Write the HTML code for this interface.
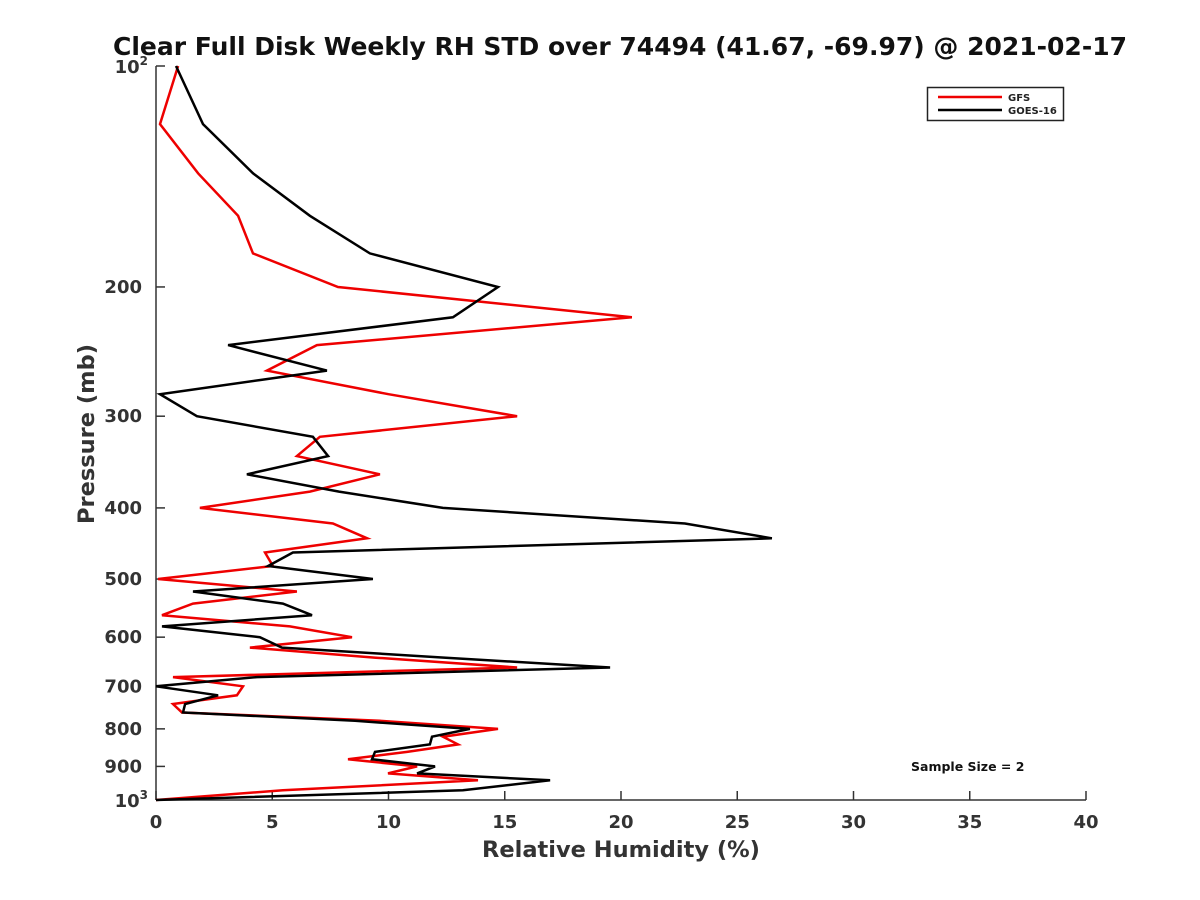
<!DOCTYPE html>
<html><head><meta charset="utf-8"><style>
body{margin:0;background:#fff;}
svg{display:block;font-family:"DejaVu Sans","Liberation Sans",sans-serif;font-weight:bold;}
</style></head><body>
<svg id="chart" width="1200" height="900">
<text x="620" y="55" text-anchor="middle" font-size="25" fill="#111">Clear Full Disk Weekly RH STD over 74494 (41.67, -69.97) @ 2021-02-17</text>
<g id="axes"></g>
<g id="series"></g>
<g>
<rect x="927.5" y="87.5" width="136" height="33" fill="#fff" stroke="#222" stroke-width="1.5"/>
<line x1="938" y1="97" x2="1002" y2="97" stroke="#e00" stroke-width="2.5"/>
<text x="1008" y="101" font-size="10" fill="#222">GFS</text>
<line x1="938" y1="110" x2="1002" y2="110" stroke="#000" stroke-width="2.5"/>
<text x="1008" y="114" font-size="10" fill="#222">GOES-16</text>
</g>
<text x="911" y="771" font-size="12.5" fill="#111">Sample Size = 2</text>
<text x="621" y="857" text-anchor="middle" font-size="22.5" fill="#333">Relative Humidity (%)</text>
<text transform="translate(94,434) rotate(-90)" text-anchor="middle" font-size="22.5" fill="#333">Pressure (mb)</text>
</svg>
<script>
const pressures=[100,120,140,160,180,200,220,240,260,280,300,320,340,360,380,400,420,440,460,480,500,520,540,560,580,600,620,640,660,680,700,720,740,760,780,800,820,840,860,880,900,920,940,970,1000];
const goesValues=[0.86,2.02,4.17,6.62,9.2,14.71,12.77,3.1,7.35,0.17,1.76,6.75,7.4,3.91,7.87,12.34,22.75,26.49,5.89,4.82,9.33,1.59,5.46,6.71,0.26,4.47,5.42,12.47,19.53,4.34,0,2.67,1.25,1.16,8.56,13.5,11.87,11.78,9.42,9.29,12.0,11.23,16.95,13.2,0];
const gfsValues=[0.95,0.17,1.81,3.53,4.17,7.83,20.47,6.92,4.77,10.0,15.53,7.05,6.06,9.63,6.62,1.89,7.61,9.08,4.69,5.03,0.09,6.06,1.59,0.26,5.76,8.43,4.04,9.46,15.53,0.73,3.74,3.48,0.73,1.12,9.63,14.71,12.34,12.99,10.8,8.26,11.23,9.98,13.85,5.46,0];
const xTicks=[0,5,10,15,20,25,30,35,40];
const yTicks=[200,300,400,500,600,700,800,900];
const X0=156,X1=1086,Y0=66,Y1=800;
const xs=v=>X0+(v-0)/(40-0)*(X1-X0);
const ys=p=>Y0+(Math.log10(p)-2)*(Y1-Y0);
const NS='http://www.w3.org/2000/svg';
const axes=document.getElementById('axes'),ser=document.getElementById('series');
function mk(tag,attrs,parent){const e=document.createElementNS(NS,tag);for(const k in attrs)e.setAttribute(k,attrs[k]);parent.appendChild(e);return e;}
let a=mk('line',{x1:X0,y1:Y0,x2:X0,y2:Y1,stroke:'#333','stroke-width':1.5},axes);


a=mk('line',{x1:X0,y1:Y1,x2:X1,y2:Y1,stroke:'#333','stroke-width':1.5},axes);


xTicks.forEach(v=>{const x=xs(v);
 const t=mk('line',{x1:x,y1:Y1,x2:x,y2:Y1-9,stroke:'#333','stroke-width':1.5},axes);
 
 
 const l=mk('text',{x:x,y:Y1+28,'text-anchor':'middle','font-size':18,fill:'#333'},axes);l.textContent=v;
 
 
});
[100,1000].concat(yTicks).forEach(p=>{const y=ys(p);
 const t=mk('line',{x1:X0,y1:y,x2:X0+9,y2:y,stroke:'#333','stroke-width':1.5},axes);
 
 
});
yTicks.forEach(p=>{const y=ys(p);
 const l=mk('text',{x:X0-14,y:y+6,'text-anchor':'end','font-size':18,fill:'#333'},axes);l.textContent=p;
 
 
});
[[100,'2'],[1000,'3']].forEach(([p,e])=>{const y=ys(p);
 const l=mk('text',{x:X0-8,y:y+7,'text-anchor':'end','font-size':18,fill:'#333'},axes);
 l.innerHTML='10<tspan dy="-8" font-size="12">'+e+'</tspan>';
 
 
});
function line(vals,color,name){
 const d=vals.map((v,i)=>(i?'L':'M')+xs(v).toFixed(1)+','+ys(pressures[i]).toFixed(1)).join(' ');
 const p=mk('path',{d:d,fill:'none',stroke:color,'stroke-width':2.5,'stroke-linejoin':'miter'},ser);
 
 
}
line(gfsValues,'#e00','gfs-line');
line(goesValues,'#000','goes16-line');
</script>
</body></html>
